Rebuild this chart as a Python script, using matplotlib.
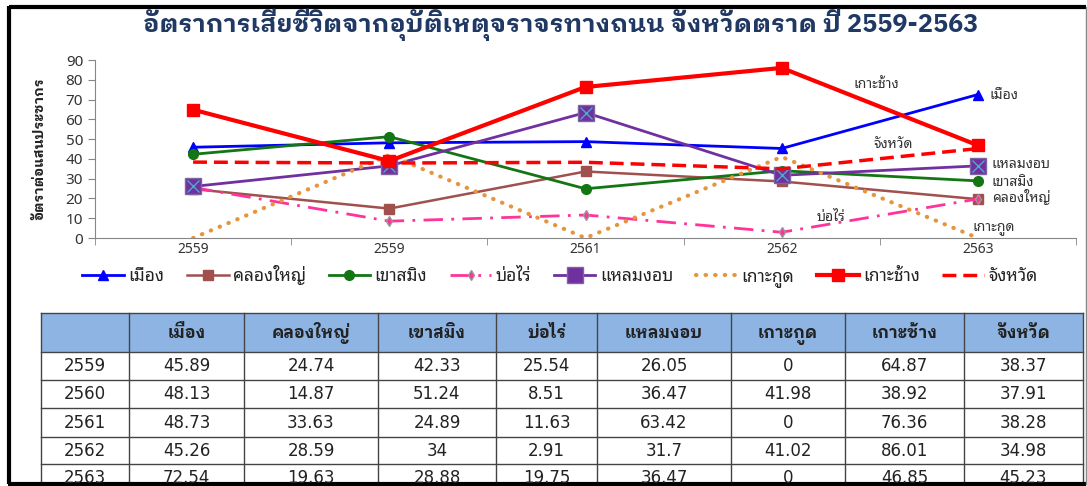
import matplotlib
matplotlib.use('Agg')
import matplotlib.pyplot as plt
from matplotlib.patches import Rectangle

plt.rcParams['font.family'] = ['Noto Sans Thai Looped', 'DejaVu Sans']
BOLD = ['IBM Plex Sans Thai Looped', 'DejaVu Sans']

# data
years = ['2559', '2560', '2561', '2562', '2563']
x_labels = ['2559', '2559', '2561', '2562', '2563']   # as printed on the chart
districts = ['เมือง', 'คลองใหญ่', 'เขาสมิง', 'บ่อไร่', 'แหลมงอบ', 'เกาะกูด', 'เกาะช้าง', 'จังหวัด']
mueang = [45.89, 48.13, 48.73, 45.26, 72.54]
khlong_yai = [24.74, 14.87, 33.63, 28.59, 19.63]
khao_saming = [42.33, 51.24, 24.89, 34, 28.88]
bo_rai = [25.54, 8.51, 11.63, 2.91, 19.75]
laem_ngop = [26.05, 36.47, 63.42, 31.7, 36.47]
ko_kut = [0, 41.98, 0, 41.02, 0]
ko_chang = [64.87, 38.92, 76.36, 86.01, 46.85]
province = [38.37, 37.91, 38.28, 34.98, 45.23]
table_text = [['45.89', '24.74', '42.33', '25.54', '26.05', '0', '64.87', '38.37'],
              ['48.13', '14.87', '51.24', '8.51', '36.47', '41.98', '38.92', '37.91'],
              ['48.73', '33.63', '24.89', '11.63', '63.42', '0', '76.36', '38.28'],
              ['45.26', '28.59', '34', '2.91', '31.7', '41.02', '86.01', '34.98'],
              ['72.54', '19.63', '28.88', '19.75', '36.47', '0', '46.85', '45.23']]

W, H = 1087, 486
fig = plt.figure(figsize=(W / 100, H / 100), dpi=100)

# overlay axes in pixel coords for frame + table
bg = fig.add_axes([0, 0, 1, 1])
bg.set_xlim(0, W)
bg.set_ylim(H, 0)
bg.axis('off')

ax = fig.add_axes([95 / W, (H - 238) / H, 981 / W, 178 / H])
x = list(range(len(years)))

ax.plot(x, mueang, color='#0000FF', lw=2, marker='^', ms=7, label='เมือง')
ax.plot(x, khlong_yai, color='#A0504D', lw=1.8, marker='s', ms=7, label='คลองใหญ่')
ax.plot(x, khao_saming, color='#137613', lw=2, marker='o', ms=7, label='เขาสมิง')
ax.plot(x, bo_rai, color='#FF3399', lw=2, ls=(0, (7, 3, 1, 3)), marker='d', ms=5,
        mfc='#FF3399', mec='#999999', label='บ่อไร่')
ax.plot(x, laem_ngop, color='#7030A0', lw=2, marker='s', ms=11, mfc='#7030A0',
        mec='#8064A2', label='แหลมงอบ')
ax.plot(x, laem_ngop, ls='none', marker='x', ms=8, mew=1, color='#4BACC6')
ax.plot(x, ko_kut, color='#E6953C', lw=3, ls=(0, (0.1, 2.2)), dash_capstyle='round',
        label='เกาะกูด')
ax.plot(x, ko_chang, color='#FF0000', lw=3, marker='s', ms=8, label='เกาะช้าง')
ax.plot(x, province, color='#FF0000', lw=2.5, ls=(0, (4, 2)), label='จังหวัด')

ax.set_xlim(-0.5, 4.5)
ax.set_ylim(0, 90)
ax.set_yticks(range(0, 91, 10))
ax.set_xticks(x)
ax.set_xticklabels(x_labels)
ax.set_xticks([i - 0.5 for i in range(6)], minor=True)
ax.tick_params(axis='x', which='major', length=0, pad=3, labelsize=10, labelcolor='#333333')
ax.tick_params(axis='x', which='minor', length=5, color='#868686', direction='out')
ax.tick_params(axis='y', length=5, color='#868686', labelsize=11, labelcolor='#333333')
for s in ['top', 'right']:
    ax.spines[s].set_visible(False)
for s in ['left', 'bottom']:
    ax.spines[s].set_color('#868686')
ax.patch.set_alpha(0)

ax.set_ylabel('อัตราต่อแสนประชากร', fontsize=10, fontweight='bold', family=BOLD,
              color='#222222', labelpad=14)

# series labels on the chart
lab = dict(fontsize=10, color='#333333', va='center')
ax.text(3.48, 77.4, 'เกาะช้าง', ha='center', **lab)
ax.text(4.06, 71.8, 'เมือง', ha='left', **lab)
ax.text(3.57, 47.5, 'จังหวัด', ha='center', **lab)
ax.text(4.07, 37.4, 'แหลมงอบ', ha='left', **lab)
ax.text(4.07, 28.3, 'เขาสมิง', ha='left', **lab)
ax.text(4.07, 20.2, 'คลองใหญ่', ha='left', **lab)
ax.text(3.97, 5.1, 'เกาะกูด', ha='left', **lab)
ax.text(3.25, 10.6, 'บ่อไร่', ha='center', **lab)

leg = fig.legend(loc='center', bbox_to_anchor=(560 / W, (H - 276) / H), ncol=8, frameon=False,
                 fontsize=12.5, handlelength=2.4, handletextpad=0.25, columnspacing=1.3)
for t in leg.get_texts():
    t.set_color('#222222')

fig.text(561 / W, (H - 32) / H, 'อัตราการเสียชีวิตจากอุบัติเหตุจราจรทางถนน จังหวัดตราด ปี 2559-2563',
         ha='center', va='baseline', fontsize=18.2, fontweight='bold', family=BOLD, color='#1F3864')

# table
col_edges = [41, 129, 244, 378, 496, 597, 731, 845, 964, 1083]
row_edges = [313, 352, 380, 408, 437, 464, 492]
bg.add_patch(Rectangle((col_edges[0], row_edges[0]), col_edges[-1] - col_edges[0],
                       row_edges[1] - row_edges[0], facecolor='#8DB4E2', edgecolor='none'))
for cx in col_edges:
    bg.plot([cx, cx], [row_edges[0], row_edges[-1]], color='#444444', lw=1)
for ry in row_edges:
    bg.plot([col_edges[0], col_edges[-1]], [ry, ry], color='#444444', lw=1)
for j, name in enumerate(districts):
    bg.text((col_edges[j + 1] + col_edges[j + 2]) / 2, row_edges[1] - 14, name,
            ha='center', va='baseline', fontsize=12, fontweight='bold', family=BOLD,
            color='#222222')
for i, yr in enumerate(years):
    cy = (row_edges[i + 1] + row_edges[i + 2]) / 2
    bg.text((col_edges[0] + col_edges[1]) / 2, cy, yr, ha='center', va='center',
            fontsize=12, color='#222222', family='DejaVu Sans')
    for j, v in enumerate(table_text[i]):
        bg.text((col_edges[j + 1] + col_edges[j + 2]) / 2, cy, v, ha='center', va='center',
                fontsize=12, color='#222222', family='DejaVu Sans')

# outer frame
bg.plot([9, 1086], [7, 7], color='black', lw=3, solid_capstyle='butt')
bg.plot([9, 9], [6, 484], color='black', lw=3, solid_capstyle='butt')
bg.plot([8, 1086], [484, 484], color='black', lw=3, solid_capstyle='butt')
bg.plot([1086, 1086], [7, 484], color='#888888', lw=1)
bg.add_patch(Rectangle((0, 485.5), W, 1, facecolor='white', edgecolor='none'))

fig.savefig('out.png', dpi=100)
